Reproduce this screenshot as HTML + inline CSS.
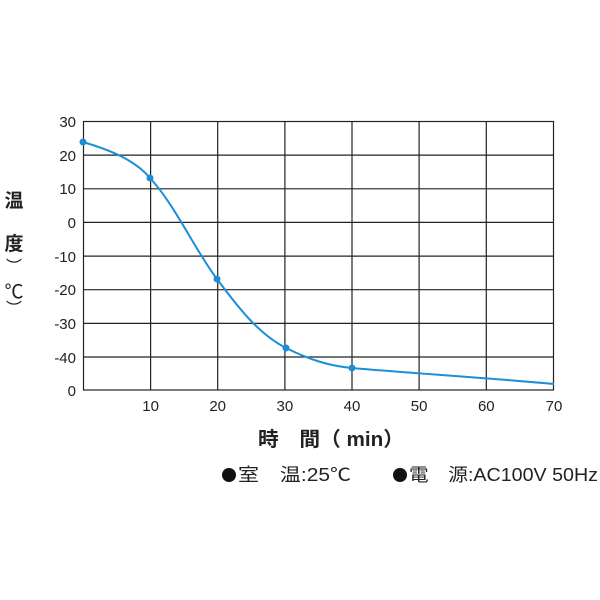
<!DOCTYPE html>
<html><head><meta charset="utf-8"><style>
html,body{margin:0;padding:0;background:#fff;}
svg{display:block;}
text{font-family:"Liberation Sans","Noto Sans CJK JP",sans-serif;fill:#222;}
</style></head><body>
<svg width="600" height="600" viewBox="0 0 600 600">
<g stroke="#222" stroke-width="1.2" fill="none">
<rect x="83.5" y="121.5" width="470" height="268.5"/>
<line x1="150.6" y1="121" x2="150.6" y2="390"/>
<line x1="217.7" y1="121" x2="217.7" y2="390"/>
<line x1="284.9" y1="121" x2="284.9" y2="390"/>
<line x1="352" y1="121" x2="352" y2="390"/>
<line x1="419.1" y1="121" x2="419.1" y2="390"/>
<line x1="486.3" y1="121" x2="486.3" y2="390"/>
<line x1="83" y1="155.1" x2="554" y2="155.1"/>
<line x1="83" y1="188.8" x2="554" y2="188.8"/>
<line x1="83" y1="222.4" x2="554" y2="222.4"/>
<line x1="83" y1="256.1" x2="554" y2="256.1"/>
<line x1="83" y1="289.7" x2="554" y2="289.7"/>
<line x1="83" y1="323.4" x2="554" y2="323.4"/>
<line x1="83" y1="357" x2="554" y2="357"/>
</g>
<g font-size="15" text-anchor="end">
<text x="76" y="127">30</text><text x="76" y="161">20</text><text x="76" y="194">10</text>
<text x="76" y="228">0</text><text x="76" y="262">-10</text><text x="76" y="295">-20</text>
<text x="76" y="329">-30</text><text x="76" y="363">-40</text><text x="76" y="396">0</text>
</g>
<g font-size="15" text-anchor="middle">
<text x="150.6" y="411">10</text><text x="217.7" y="411">20</text><text x="284.9" y="411">30</text>
<text x="352" y="411">40</text><text x="419.1" y="411">50</text><text x="486.3" y="411">60</text>
<text x="554" y="411">70</text>
</g>
<g font-size="19" text-anchor="middle" font-weight="bold">
<text x="14" y="207">温</text>
<text x="14" y="250">度</text>
<text x="14" y="272" font-size="16" font-weight="normal">︶</text>
<text x="14" y="298" font-weight="normal">℃</text>
<text x="14" y="314" font-size="16" font-weight="normal">︶</text>
</g>
<text x="258" y="446" font-size="20" font-weight="bold" textLength="146" lengthAdjust="spacingAndGlyphs">時　間（ min）</text>
<circle cx="229" cy="475" r="7" fill="#111"/>
<text x="238" y="481" font-size="18" textLength="113" lengthAdjust="spacingAndGlyphs">室　温:25℃</text>
<circle cx="400" cy="475" r="7" fill="#111"/>
<text x="409" y="481" font-size="18" textLength="189" lengthAdjust="spacingAndGlyphs">電　源:AC100V 50Hz</text>
<path d="M83,142 C110,150 135,160 150,178 C175,205 195,250 217,279 C240,310 260,335 286,348 C310,360 330,366 352,368 C420,374 490,378 554,384" fill="none" stroke="#1a8fd6" stroke-width="2"/>
<g fill="#1a8fd6">
<circle cx="83" cy="142" r="3.5"/><circle cx="150" cy="178" r="3.5"/>
<circle cx="217" cy="279" r="3.5"/><circle cx="286" cy="348" r="3.5"/>
<circle cx="352" cy="368" r="3.5"/>
</g>
</svg>
</body></html>
